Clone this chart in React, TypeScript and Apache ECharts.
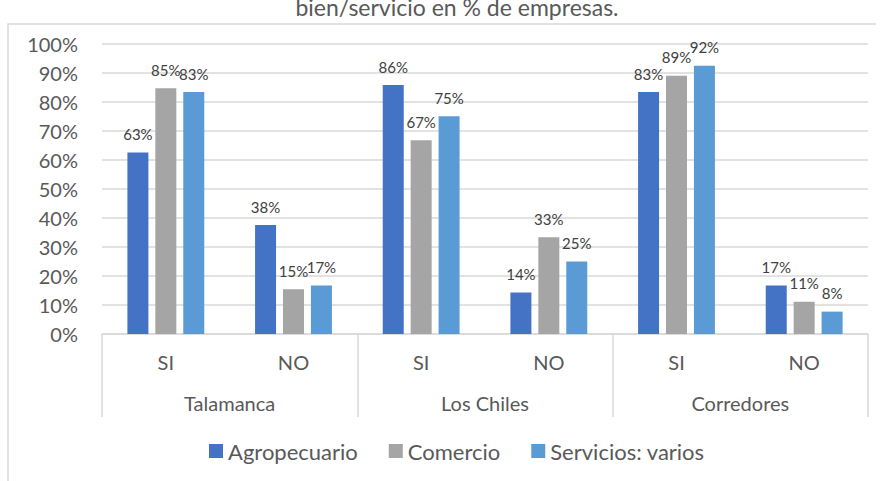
import React, { useEffect, useRef } from "react";
import * as echarts from "echarts";

const subCategories = ["SI", "NO", "SI", "NO", "SI", "NO"];
const groups = ["Talamanca", "Los Chiles", "Corredores"];
const seriesNames = ["Agropecuario", "Comercio", "Servicios: varios"];
const agropecuario = [62.5, 37.5, 85.7, 14.3, 83.3, 16.7];
const comercio = [84.6, 15.4, 66.7, 33.3, 88.9, 11.1];
const servicios = [83.3, 16.7, 75, 25, 92.3, 7.7];
const colors = ["#4472C4", "#A5A5A5", "#5B9BD5"];
const titleText = "bien/servicio en % de empresas.";

const FONT = "Lato, 'Open Sans', sans-serif";

export default function App() {
  const ref = useRef<HTMLDivElement>(null);
  useEffect(() => {
    if (!ref.current) return;
    const chart = echarts.init(ref.current, null, { renderer: "svg" });
    const values = [agropecuario, comercio, servicios];
    chart.setOption({
      animation: false,
      textStyle: { fontFamily: FONT },
      grid: { left: 102, right: 15, top: 43.5, bottom: 147, containLabel: false },
      graphic: [
        {
          type: "polyline",
          shape: { points: [[8, 481], [8, 24], [876, 24]] },
          style: { stroke: "#d9d9d9", lineWidth: 1.5, fill: "none" },
          silent: true,
        },
        {
          type: "text",
          x: 457,
          y: 18,
          style: {
            text: titleText,
            fontFamily: FONT,
            fontSize: 23,
            fill: "#595959",
            textAlign: "center",
            textVerticalAlign: "bottom",
          },
        },
      ],
      legend: {
        data: seriesNames,
        bottom: 14,
        left: 204,
        itemWidth: 14,
        itemHeight: 14,
        itemGap: 31,
        icon: "rect",
        textStyle: { fontFamily: FONT, fontSize: 22, color: "#595959" },
      },
      xAxis: [
        {
          type: "category",
          data: subCategories,
          position: "bottom",
          axisLine: { show: true, lineStyle: { color: "#d9d9d9", width: 1.5 } },
          axisTick: { show: false },
          axisLabel: { margin: 18, fontSize: 20, color: "#595959", fontFamily: FONT },
        },
        {
          type: "category",
          data: groups,
          position: "bottom",
          gridIndex: 0,
          axisLine: { show: false },
          axisTick: { show: true, length: 83, lineStyle: { color: "#d9d9d9", width: 1.5 } },
          axisLabel: { margin: 59, fontSize: 20, color: "#595959", fontFamily: FONT },
        },
      ],
      yAxis: {
        type: "value",
        min: 0,
        max: 100,
        interval: 10,
        axisLine: { show: false },
        axisTick: { show: false },
        splitLine: { lineStyle: { color: "#d9d9d9", width: 1.5 } },
        axisLabel: {
          formatter: "{value}%",
          margin: 24,
          fontSize: 20,
          color: "#595959",
          fontFamily: FONT,
        },
      },
      series: seriesNames.map((name, i) => ({
        name,
        type: "bar",
        xAxisIndex: 0,
        data: values[i],
        barWidth: 21,
        barGap: "33%",
        itemStyle: { color: colors[i] },
        label: {
          show: true,
          position: "top",
          distance: 11,
          fontSize: 15,
          color: "#404040",
          fontFamily: FONT,
          formatter: (p: any) => Math.round(p.value) + "%",
        },
      })),
    });
    return () => chart.dispose();
  }, []);
  return <div ref={ref} style={{ width: 883, height: 481, position: "absolute", left: 0, top: 0 }} />;
}
